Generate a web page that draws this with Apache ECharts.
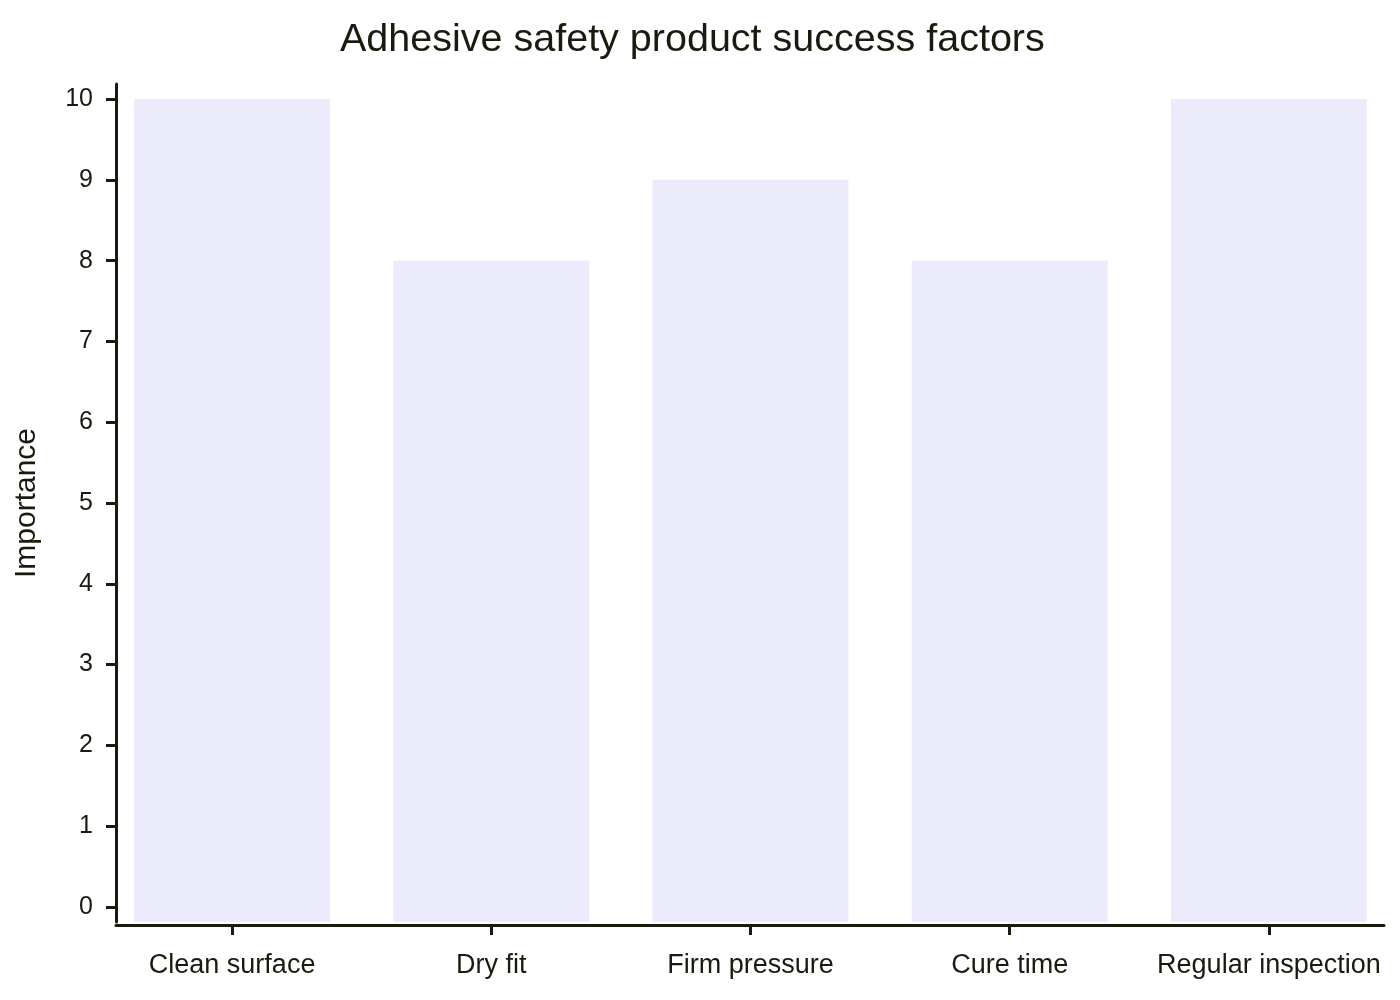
<!DOCTYPE html>
<html>
<head>
<meta charset="utf-8">
<script src="https://cdn.jsdelivr.net/npm/echarts@6/dist/echarts.min.js"></script>
<style>
  html, body { margin: 0; padding: 0; background: #fff; }
  #chart { width: 1400px; height: 1000px; }
</style>
</head>
<body>
<div id="chart"></div>
<script>
var categories = ['Clean surface', 'Dry fit', 'Firm pressure', 'Cure time', 'Regular inspection'];
var importance = [10, 8, 9, 8, 10];
var yTicks = [0, 1, 2, 3, 4, 5, 6, 7, 8, 9, 10];

var Y_MIN = -0.186, Y_MAX = 10.186;
var ink = '#1a1a0e';
var font = '"Liberation Sans", Arial, sans-serif';

var myChart = echarts.init(document.getElementById('chart'));

var option = {
    animation: false,
    title: {
        text: 'Adhesive safety product success factors',
        left: 335,
        top: 15,
        textStyle: { fontFamily: font, fontSize: 39.5, fontWeight: 'normal', color: ink }
    },
    grid: [
        // axis lines grid
        { left: 116, right: 16, top: 84, bottom: 78 },
        // band grid for the bars
        { left: 102.5, right: 1.5, top: 84, bottom: 78 }
    ],
    xAxis: [{
        gridIndex: 0,
        type: 'value',
        min: 0, max: 1,
        offset: 3,
        axisLine: { show: true, onZero: false, lineStyle: { color: ink, width: 3 } },
        axisTick: { show: false },
        axisLabel: { show: false },
        splitLine: { show: false }
    }, {
        gridIndex: 1,
        type: 'category',
        data: categories,
        offset: 3,
        axisLine: { show: false, onZero: false },
        axisTick: { show: true, alignWithLabel: true, length: 10, lineStyle: { color: ink, width: 3 } },
        axisLabel: { margin: 27, fontFamily: font, fontSize: 27, color: ink, interval: 0 },
        splitLine: { show: false }
    }],
    yAxis: [{
        gridIndex: 0,
        type: 'value',
        min: Y_MIN, max: Y_MAX,
        name: 'Importance',
        nameLocation: 'middle',
        nameGap: 74,
        nameTextStyle: { fontFamily: font, fontSize: 30, color: ink },
        axisLine: { show: true, onZero: false, lineStyle: { color: ink, width: 3 } },
        axisTick: { show: true, customValues: yTicks, length: 10, lineStyle: { color: ink, width: 3 } },
        axisLabel: { customValues: yTicks, margin: 23, fontFamily: font, fontSize: 25, color: ink },
        splitLine: { show: false }
    }, {
        gridIndex: 1,
        type: 'value',
        min: Y_MIN, max: Y_MAX,
        show: false
    }],
    series: [{
        type: 'custom',
        xAxisIndex: 1,
        yAxisIndex: 1,
        data: importance.map(function (v, i) { return [i, v]; }),
        renderItem: function (params, api) {
            var top = api.coord([api.value(0), api.value(1)]);
            var base = api.coord([api.value(0), Y_MIN]);
            var w = api.size([1, 0])[0] * 0.756;
            return {
                type: 'rect',
                shape: { x: top[0] - w / 2, y: top[1], width: w, height: base[1] - top[1] },
                style: { fill: '#ebebfb' }
            };
        }
    }]
};

myChart.setOption(option);
</script>
</body>
</html>
